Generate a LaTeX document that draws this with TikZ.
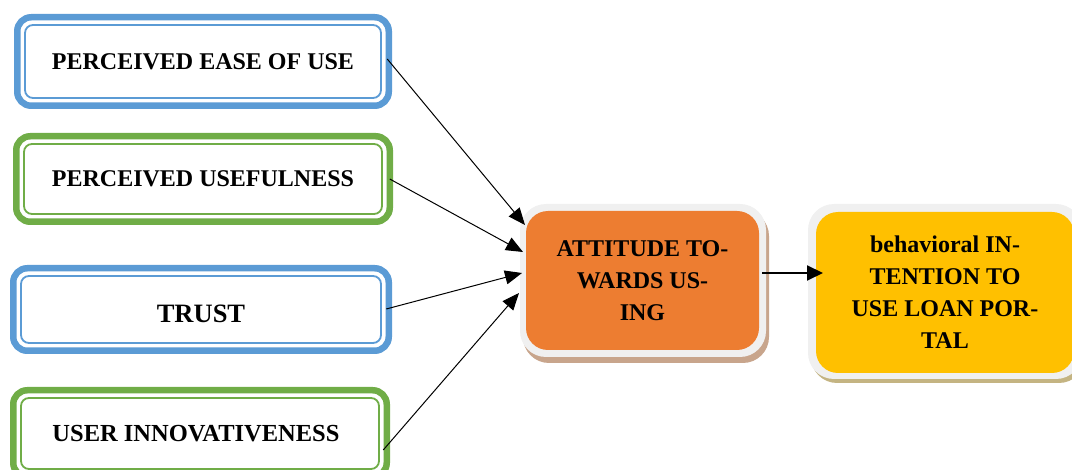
\documentclass[tikz,border=0pt]{standalone}
\usepackage{fontspec}
\setmainfont{Liberation Serif}
\usetikzlibrary{arrows.meta,calc}
\definecolor{cblue}{HTML}{5B9BD5}
\definecolor{cgreen}{HTML}{70AD47}
\definecolor{corange}{HTML}{ED7D31}
\definecolor{cyellow}{HTML}{FFC000}
\definecolor{cframe}{RGB}{240,240,240}
\definecolor{cshadowA}{RGB}{200,165,140}
\definecolor{cshadowB}{RGB}{196,180,130}
\begin{document}
\begin{tikzpicture}[x=1pt,y=-1pt,
  outerbox/.style={rounded corners=14pt, line width=6.5pt, outer sep=0pt, inner sep=0pt,
    fill=white, text=black, font=\bfseries\fontsize{24}{29}\selectfont},
  innerline/.style={line width=1.8pt, rounded corners=8pt},
  inarrow/.style={line width=1pt, -{Triangle[length=17pt,width=14pt]}},
  bigarrow/.style={line width=2pt, -{Triangle[length=16pt,width=15pt]}},
  framebox/.style={fill=cframe, rounded corners=26pt, outer sep=0pt, inner sep=0pt},
  fillbox/.style={rounded corners=22pt, outer sep=0pt, inner sep=0pt, align=center,
    text=black, font=\bfseries\fontsize{24}{32}\selectfont}]
\useasboundingbox (0,0) rectangle (1072,470);
\clip (0,0) rectangle (1072,470);

% left boxes
\node[outerbox, draw=cblue, minimum width=371.5pt, minimum height=88.5pt] (peou) at (203,61.5) {PERCEIVED EASE OF USE};
\draw[innerline, cblue] ($(peou.south west)+(7.75,-7.75)$) rectangle ($(peou.north east)+(-7.75,7.75)$);

\node[outerbox, draw=cgreen, minimum width=373.5pt, minimum height=85.5pt] (pu) at (203,179) {PERCEIVED USEFULNESS};
\draw[innerline, cgreen] ($(pu.south west)+(7.75,-7.75)$) rectangle ($(pu.north east)+(-7.75,7.75)$);

\node[outerbox, draw=cblue, minimum width=375.5pt, minimum height=82.5pt, font=\bfseries\fontsize{26.5}{30}\selectfont, text height=25.5pt] (trust) at (201,309.5) {TRUST};
\draw[innerline, cblue] ($(trust.south west)+(7.75,-7.75)$) rectangle ($(trust.north east)+(-7.75,7.75)$);

\node[outerbox, draw=cgreen, minimum width=373.5pt, minimum height=86.5pt, font=\bfseries\fontsize{24.5}{29}\selectfont] (ui) at (200,433.5) {USER INNOVATIVENESS\hspace*{8pt}};
\draw[innerline, cgreen] ($(ui.south west)+(7.75,-7.75)$) rectangle ($(ui.north east)+(-7.75,7.75)$);

% attitude box
\path[fill=cshadowA, rounded corners=26pt] (523,210) rectangle (769,363);
\node[framebox, minimum width=246pt, minimum height=153pt] (att) at (643,280.5) {};
\node[fillbox, fill=corange, minimum width=233pt, minimum height=139pt] (attin) at (642.5,280.5) {ATTITUDE TO-\\WARDS US-\\ING};

% behavioral intention box
\path[fill=cshadowB, rounded corners=26pt] (811,208) rectangle (1085,383);
\node[framebox, minimum width=274pt, minimum height=175pt] (bi) at (945,291.5) {};
\node[fillbox, fill=cyellow, minimum width=258pt, minimum height=161pt] (biin) at (945,292.5) {behavioral IN-\\TENTION TO\\USE LOAN POR-\\TAL};

% connectors
\draw[inarrow] ($(peou.east)+(-1.5,-2.5)$) -- ($(att.west)+(5,-55.5)$);
\draw[inarrow] (pu.east) -- ($(att.west)+(3,-28.5)$);
\draw[inarrow] ($(trust.east)+(-2.5,-0.5)$) -- ($(att.west)+(2,-7.5)$);
\draw[inarrow] ($(ui.east)+(-3.5,16.5)$) -- ($(att.west)+(-1,12.5)$);

\coordinate (s) at ($(att.east)+(-4,-7.5)$);
\draw[bigarrow] (s) -- ($(s -| bi.west)+(15,0)$);
\end{tikzpicture}
\end{document}
